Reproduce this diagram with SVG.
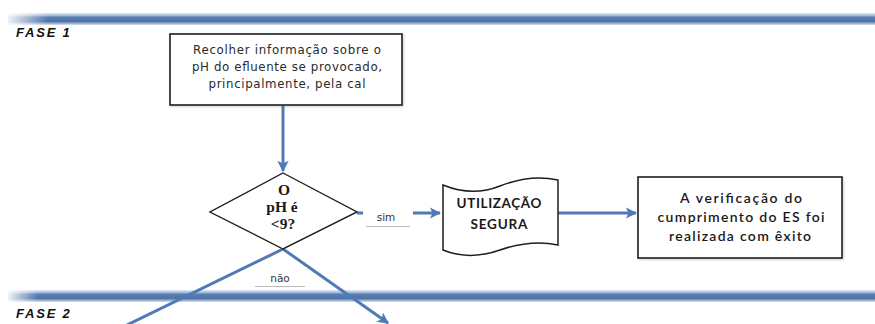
<svg xmlns="http://www.w3.org/2000/svg" width="875" height="324" viewBox="0 0 875 324">
<defs>
<linearGradient id="band" x1="0" y1="0" x2="0" y2="1">
<stop offset="0" stop-color="#e4eaf4"/>
<stop offset="0.2" stop-color="#a9bddb"/>
<stop offset="0.35" stop-color="#5a7fb3"/>
<stop offset="0.7" stop-color="#4d72a8"/>
<stop offset="0.85" stop-color="#93a9c9"/>
<stop offset="1" stop-color="#dde3ec"/>
</linearGradient>
<linearGradient id="fadeL" x1="0" y1="0" x2="1" y2="0">
<stop offset="0" stop-color="#fff" stop-opacity="0.9"/>
<stop offset="1" stop-color="#fff" stop-opacity="0"/>
</linearGradient>
<marker id="ah" viewBox="0 0 10 10" refX="9" refY="5" markerWidth="3.8" markerHeight="3.8" orient="auto" markerUnits="strokeWidth">
<path d="M0,0 L10,5 L0,10 L2.5,5 Z" fill="#4f7ab5"/>
</marker>
<filter id="sh" x="-5%" y="-5%" width="112%" height="120%">
<feDropShadow dx="1" dy="1" stdDeviation="1" flood-color="#000" flood-opacity="0.18"/>
</filter>
</defs>
<style>
.box{fill:#fff;stroke:#1e1e1e;stroke-width:1.6}
.con{fill:none;stroke:#4f7ab5;stroke-width:3}
.phase{font-family:"Liberation Sans",Arial,sans-serif;font-weight:bold;font-style:italic;font-size:13px;letter-spacing:1.8px;fill:#111}
.t1{font-family:"DejaVu Sans",Verdana,sans-serif;font-size:11.8px;fill:#2a2a2a;text-anchor:middle}
.t3{font-family:Lato,"Open Sans",sans-serif;font-size:14px;font-weight:600;fill:#1a1a1a;text-anchor:middle}
.tu{font-family:Lato,"Open Sans",sans-serif;font-size:13.5px;font-weight:bold;fill:#1a1a1a;text-anchor:middle}
.td{font-family:"Liberation Serif","Times New Roman",serif;font-size:15.5px;font-weight:bold;fill:#1a1a1a;text-anchor:middle}
.lbl{font-family:"DejaVu Sans",Verdana,sans-serif;font-size:10.5px;fill:#333;text-anchor:middle}
.lblbox{fill:#fff;stroke:none}
</style>

<g id="bands">
<rect x="8" y="13" width="867" height="12" fill="url(#band)"/>
<rect x="8" y="13" width="40" height="12" fill="url(#fadeL)"/>
<rect x="8" y="290" width="867" height="12" fill="url(#band)"/>
<rect x="8" y="290" width="30" height="12" fill="url(#fadeL)"/>
</g>

<g id="phase1"><text class="phase" x="16" y="37">FASE 1</text></g>
<g id="phase2"><text class="phase" x="16" y="318">FASE 2</text></g>

<g id="connectors">
<line class="con" x1="283" y1="106" x2="283" y2="171" marker-end="url(#ah)"/>
<line class="con" x1="357" y1="213" x2="440" y2="213" marker-end="url(#ah)"/>
<line class="con" x1="558" y1="213" x2="636" y2="213" marker-end="url(#ah)"/>
<line class="con" x1="283" y1="249" x2="90" y2="343"/>
<line class="con" x1="283" y1="249" x2="388" y2="323" marker-end="url(#ah)"/>
</g>

<g id="node-recolher">
<rect class="box" x="170" y="34" width="232" height="71" filter="url(#sh)"/>
<text class="t1" x="287" y="54" textLength="188">Recolher informação sobre o</text>
<text class="t1" x="287" y="71" textLength="190">pH do efluente se provocado,</text>
<text class="t1" x="287" y="88" textLength="157">principalmente, pela cal</text>
</g>

<g id="node-decisao">
<path d="M283,173 L357,212 L283,249 L210,212 Z" fill="#fff" stroke="#1e1e1e" stroke-width="1.4"/>
<text class="td" x="284" y="195">O</text>
<text class="td" x="282" y="212">pH é</text>
<text class="td" x="283" y="229">&lt;9?</text>
</g>

<g id="label-sim">
<rect class="lblbox" x="363" y="205" width="50" height="22"/>
<line x1="366" y1="226.5" x2="410" y2="226.5" stroke="#bbb" stroke-width="1"/>
<text class="lbl" x="386" y="221">sim</text>
</g>

<g id="label-nao">
<rect class="lblbox" x="252" y="267" width="55" height="20"/>
<line x1="255" y1="286.5" x2="305" y2="286.5" stroke="#bbb" stroke-width="1"/>
<text class="lbl" x="280" y="282">não</text>
</g>

<g id="node-utilizacao">
<path d="M443,185 C460,192 480,194 500,186 C520,178 540,176 558,180 L558,245 C540,241 520,243 500,250 C480,257 460,257 443,250 Z" fill="#fff" stroke="#1e1e1e" stroke-width="1.5"/>
<text class="tu" x="499" y="208" textLength="85">UTILIZAÇÃO</text>
<text class="tu" x="499" y="229" textLength="57">SEGURA</text>
</g>

<g id="node-verificacao">
<rect class="box" x="638" y="177" width="204" height="81" filter="url(#sh)"/>
<text class="t3" x="741" y="203" textLength="122">A verificação do</text>
<text class="t3" x="741" y="222" textLength="167">cumprimento do ES foi</text>
<text class="t3" x="740" y="241" textLength="142">realizada com êxito</text>
</g>
</svg>
